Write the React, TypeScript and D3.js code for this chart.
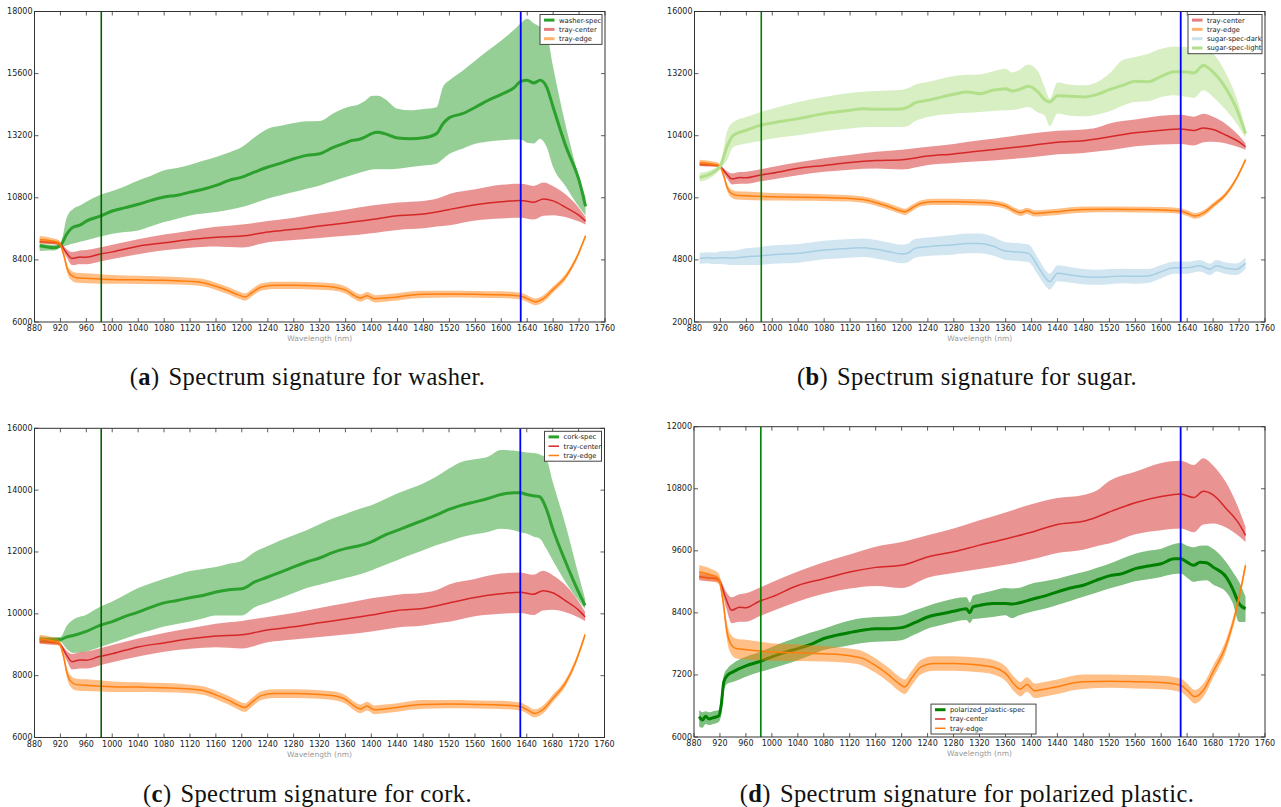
import React from 'react';
import * as d3 from 'd3';

// ---------------- data ----------------
const xTicks = [880, 920, 960, 1000, 1040, 1080, 1120, 1160, 1200, 1240, 1280, 1320, 1360, 1400, 1440, 1480, 1520, 1560, 1600, 1640, 1680, 1720, 1760];
const yTicksA = [6000, 8400, 10800, 13200, 15600, 18000];
const yTicksB = [2000, 4800, 7600, 10400, 13200, 16000];
const yTicksC = [6000, 8000, 10000, 12000, 14000, 16000];
const yTicksD = [6000, 7200, 8400, 9600, 10800, 12000];
const markerLines = [983, 1630];

const trayCenterWl = [888, 900, 915, 920, 930, 938, 950, 960, 980, 1000, 1040, 1080, 1120, 1160, 1200, 1240, 1280, 1320, 1360, 1400, 1440, 1480, 1500, 1520, 1560, 1600, 1630, 1650, 1665, 1680, 1700, 1720, 1730];
const trayCenterMean = [9100, 9080, 9060, 9000, 8650, 8450, 8510, 8500, 8620, 8710, 8930, 9060, 9190, 9280, 9320, 9480, 9580, 9710, 9830, 9960, 10110, 10170, 10250, 10350, 10530, 10650, 10700, 10630, 10750, 10680, 10420, 10120, 9900];
const trayCenterHi = [9170, 9150, 9120, 9060, 8800, 8700, 8760, 8780, 8880, 8990, 9200, 9380, 9530, 9680, 9770, 9900, 10030, 10190, 10340, 10500, 10620, 10680, 10760, 10950, 11130, 11300, 11340, 11260, 11390, 11250, 10920, 10400, 10060];
const trayCenterLo = [9030, 9010, 9000, 8940, 8480, 8200, 8230, 8230, 8330, 8430, 8620, 8770, 8870, 8920, 8880, 9080, 9170, 9250, 9330, 9430, 9560, 9620, 9690, 9740, 9920, 10000, 10030, 9960, 10110, 10130, 10050, 9880, 9770];

const trayEdgeWl = [888, 905, 918, 925, 930, 935, 945, 960, 1000, 1040, 1080, 1120, 1140, 1160, 1180, 1195, 1205, 1215, 1230, 1250, 1280, 1320, 1340, 1360, 1375, 1383, 1393, 1405, 1420, 1440, 1460, 1480, 1520, 1560, 1600, 1630, 1640, 1652, 1665, 1680, 1700, 1715, 1730];
const trayEdgeMean = [9190, 9140, 9060, 8610, 8100, 7840, 7710, 7690, 7645, 7630, 7610, 7570, 7520, 7380, 7200, 7040, 6970, 7130, 7355, 7420, 7420, 7390, 7355, 7230, 7000, 6925, 7015, 6895, 6925, 6970, 7035, 7070, 7080, 7070, 7055, 7000, 6905, 6780, 6905, 7260, 7775, 8420, 9320];
const trayEdgeSpread = [130, 120, 100, 130, 160, 180, 190, 190, 170, 160, 150, 140, 140, 140, 140, 140, 140, 140, 140, 140, 140, 140, 140, 140, 140, 140, 140, 140, 140, 140, 140, 140, 130, 130, 130, 130, 130, 130, 130, 120, 110, 100, 90];

const washerWl = [888, 900, 910, 920, 930, 940, 950, 960, 980, 1000, 1020, 1040, 1060, 1080, 1100, 1120, 1140, 1160, 1180, 1200, 1220, 1240, 1260, 1280, 1300, 1320, 1340, 1360, 1370, 1380, 1390, 1400, 1410, 1420, 1440, 1460, 1480, 1500, 1510, 1520, 1540, 1560, 1580, 1600, 1620, 1630, 1640, 1650, 1660, 1670, 1680, 1700, 1720, 1730];
const washerMean = [8950, 8900, 8870, 8960, 9410, 9670, 9740, 9900, 10080, 10290, 10420, 10550, 10700, 10830, 10900, 11020, 11130, 11280, 11475, 11600, 11800, 11990, 12140, 12310, 12440, 12500, 12740, 12920, 13020, 13050, 13150, 13280, 13330, 13280, 13110, 13085, 13120, 13280, 13660, 13900, 14050, 14300, 14570, 14800, 15060, 15300, 15340, 15240, 15340, 15080, 14300, 12760, 11470, 10470];
const washerHi = [9030, 9000, 8980, 9050, 10060, 10380, 10500, 10650, 10900, 11060, 11250, 11470, 11650, 11860, 11950, 12080, 12230, 12380, 12550, 12760, 13150, 13470, 13580, 13690, 13760, 13770, 14050, 14280, 14350, 14410, 14550, 14730, 14740, 14630, 14240, 14180, 14230, 14300, 15080, 15340, 15700, 16110, 16500, 16880, 17300, 17550, 17720, 17550, 17400, 17140, 15850, 13530, 11600, 10830];
const washerLo = [8740, 8760, 8760, 8870, 8960, 9030, 9100, 9160, 9290, 9410, 9480, 9540, 9700, 9860, 9990, 10120, 10190, 10250, 10340, 10440, 10600, 10770, 10900, 11020, 11150, 11280, 11440, 11600, 11680, 11760, 11830, 11890, 11900, 11900, 11920, 11990, 12050, 12120, 12300, 12500, 12700, 12890, 12980, 13020, 13050, 13050, 12930, 12900, 13080, 12760, 11990, 11220, 10440, 10120];

const sugarLightWl = [888, 900, 910, 920, 930, 940, 960, 980, 1000, 1040, 1080, 1120, 1140, 1160, 1200, 1210, 1220, 1240, 1280, 1300, 1320, 1340, 1360, 1370, 1380, 1395, 1410, 1420, 1428, 1440, 1460, 1480, 1500, 1520, 1540, 1560, 1580, 1600, 1620, 1640, 1650, 1665, 1680, 1700, 1715, 1730];
const sugarLightMean = [8515, 8620, 8770, 9040, 9895, 10420, 10645, 10855, 10975, 11170, 11395, 11545, 11620, 11590, 11605, 11695, 11875, 11995, 12265, 12370, 12295, 12445, 12520, 12415, 12475, 12625, 12370, 12025, 11920, 12205, 12175, 12145, 12250, 12475, 12670, 12850, 12835, 13075, 13285, 13270, 13225, 13570, 13270, 12520, 11695, 10495];
const sugarLightHi = [8725, 8800, 8920, 9150, 10570, 11020, 11245, 11450, 11620, 11920, 12145, 12325, 12380, 12415, 12475, 12550, 12700, 12820, 13090, 13150, 13165, 13300, 13420, 13250, 13350, 13615, 13300, 12595, 12070, 12800, 12700, 12670, 12800, 13200, 13800, 13945, 14100, 14320, 14425, 14395, 14380, 14320, 14095, 13195, 12200, 10720];
const sugarLightLo = [8320, 8420, 8600, 8930, 9295, 9895, 10045, 10150, 10270, 10420, 10600, 10720, 10780, 10795, 10795, 10850, 11050, 11245, 11395, 11430, 11470, 11510, 11545, 11560, 11600, 11695, 11450, 11320, 10825, 11400, 11300, 11275, 11350, 11500, 11750, 11920, 11950, 12145, 12220, 12145, 12100, 12445, 12145, 11545, 11000, 10315];

const sugarDarkWl = [888, 900, 910, 920, 940, 960, 980, 1000, 1040, 1080, 1120, 1140, 1160, 1180, 1200, 1210, 1220, 1240, 1280, 1300, 1320, 1340, 1360, 1380, 1395, 1410, 1420, 1428, 1440, 1460, 1480, 1500, 1520, 1540, 1560, 1580, 1600, 1620, 1640, 1660, 1675, 1685, 1700, 1715, 1730];
const sugarDarkMean = [4870, 4900, 4870, 4900, 4890, 4945, 4975, 5035, 5095, 5245, 5320, 5350, 5275, 5170, 5065, 5125, 5320, 5395, 5485, 5545, 5545, 5425, 5200, 5155, 5095, 4495, 4045, 3820, 4195, 4120, 4045, 4015, 4045, 4075, 4060, 4075, 4270, 4450, 4450, 4540, 4375, 4540, 4420, 4375, 4645];
const sugarDarkSpread = [250, 250, 260, 280, 320, 380, 400, 410, 420, 420, 420, 420, 420, 420, 420, 420, 420, 420, 440, 450, 450, 430, 400, 400, 400, 380, 360, 360, 360, 350, 340, 340, 340, 330, 330, 320, 300, 280, 270, 260, 260, 260, 260, 260, 250];

const corkWl = [888, 900, 920, 930, 940, 960, 980, 1000, 1020, 1040, 1060, 1080, 1100, 1120, 1140, 1160, 1180, 1200, 1220, 1240, 1260, 1280, 1300, 1320, 1340, 1360, 1380, 1400, 1420, 1440, 1460, 1480, 1500, 1520, 1540, 1560, 1580, 1600, 1620, 1630, 1640, 1650, 1660, 1670, 1680, 1700, 1720, 1730];
const corkMean = [9190, 9170, 9170, 9255, 9300, 9430, 9620, 9750, 9915, 10055, 10215, 10355, 10430, 10520, 10595, 10705, 10780, 10810, 11030, 11190, 11350, 11515, 11675, 11805, 11980, 12110, 12195, 12325, 12540, 12700, 12865, 13025, 13190, 13375, 13515, 13620, 13730, 13860, 13915, 13915, 13860, 13820, 13785, 13405, 12755, 11675, 10700, 10270];
const corkHi = [9265, 9250, 9250, 9620, 9815, 9970, 10215, 10400, 10620, 10835, 10990, 11135, 11260, 11385, 11450, 11515, 11620, 11710, 12000, 12190, 12380, 12540, 12705, 12900, 13080, 13230, 13385, 13515, 13700, 13890, 14050, 14215, 14430, 14700, 14920, 15000, 15080, 15300, 15280, 15250, 15220, 15200, 15155, 15025, 14270, 12865, 11255, 10485];
const corkLo = [9105, 9090, 9090, 8865, 8735, 8780, 8920, 9060, 9200, 9350, 9470, 9590, 9670, 9750, 9850, 9945, 9945, 9945, 10215, 10360, 10510, 10670, 10835, 10940, 11050, 11160, 11265, 11405, 11570, 11730, 11900, 12055, 12215, 12350, 12485, 12570, 12650, 12755, 12700, 12640, 12595, 12500, 12435, 12110, 11730, 11025, 10430, 10160];

const plasticWl = [888, 893, 898, 903, 910, 918, 922, 926, 932, 940, 960, 980, 1000, 1020, 1040, 1060, 1080, 1100, 1120, 1140, 1160, 1180, 1200, 1220, 1240, 1260, 1280, 1300, 1305, 1310, 1320, 1340, 1360, 1370, 1380, 1400, 1420, 1440, 1460, 1480, 1500, 1520, 1540, 1560, 1580, 1600, 1620, 1630, 1640, 1650, 1660, 1670, 1680, 1700, 1710, 1720, 1730];
const plasticMean = [6393, 6330, 6400, 6350, 6375, 6405, 6620, 7070, 7200, 7260, 7375, 7455, 7550, 7635, 7710, 7790, 7905, 7970, 8020, 8065, 8095, 8095, 8115, 8210, 8320, 8380, 8430, 8480, 8405, 8515, 8545, 8580, 8580, 8570, 8590, 8660, 8725, 8805, 8880, 8935, 9030, 9115, 9160, 9255, 9305, 9350, 9445, 9445, 9380, 9320, 9380, 9370, 9285, 9095, 8870, 8580, 8480];
const plasticHi = [6520, 6480, 6500, 6480, 6500, 6520, 6815, 7200, 7330, 7420, 7550, 7640, 7740, 7840, 7935, 8020, 8095, 8180, 8255, 8300, 8320, 8330, 8355, 8450, 8535, 8610, 8675, 8700, 8600, 8730, 8770, 8830, 8880, 8870, 8880, 8965, 9010, 9060, 9130, 9190, 9270, 9350, 9450, 9545, 9600, 9640, 9730, 9750, 9700, 9670, 9700, 9705, 9640, 9385, 9200, 9000, 8710];
const plasticLo = [6200, 6180, 6250, 6230, 6250, 6290, 6425, 6900, 7035, 7065, 7165, 7250, 7325, 7400, 7485, 7580, 7680, 7730, 7775, 7820, 7840, 7850, 7870, 7980, 8095, 8160, 8225, 8260, 8200, 8280, 8290, 8320, 8355, 8300, 8350, 8420, 8480, 8550, 8630, 8710, 8790, 8870, 8940, 9010, 9050, 9095, 9150, 9160, 9080, 9000, 9020, 9030, 8950, 8805, 8600, 8225, 8225];

// ---------------- series ----------------
type Series = { label: string; color: string; width: number; legendWidth: number; legendOpacity: number; wl: number[]; mean: number[]; hi: number[]; lo: number[] };

const mk = (label: string, color: string, width: number, wl: number[], mean: number[], hi: number[], lo: number[], legendWidth = width, legendOpacity = 1): Series =>
  ({ label, color, width, legendWidth, legendOpacity, wl, mean, hi, lo });

const edgeHi = trayEdgeMean.map((m, i) => m + trayEdgeSpread[i]);
const edgeLo = trayEdgeMean.map((m, i) => m - trayEdgeSpread[i]);
const darkHi = sugarDarkMean.map((m, i) => m + sugarDarkSpread[i]);
const darkLo = sugarDarkMean.map((m, i) => m - sugarDarkSpread[i]);

const RED = '#d62728', ORANGE = '#ff7f0e', GREEN = '#2ca02c';

type PanelCfg = {
  left: number; right: number; top: number; bottom: number;
  yDomain: [number, number]; yTicks: number[]; series: Series[];
  legend: { pos: 'ur' | 'lc'; width: number };
  vGreen: string; letter: string; caption: string; capX: number; capY: number;
};

const panels: PanelCfg[] = [
  {
    left: 34.5, right: 605, top: 11.5, bottom: 322, yDomain: [6000, 18000], yTicks: yTicksA,
    series: [
      mk('washer-spec', GREEN, 3, washerWl, washerMean, washerHi, washerLo),
      mk('tray-center', RED, 1.5, trayCenterWl, trayCenterMean, trayCenterHi, trayCenterLo, 3, 0.6),
      mk('tray-edge', ORANGE, 1.5, trayEdgeWl, trayEdgeMean, edgeHi, edgeLo, 3, 0.6),
    ],
    legend: { pos: 'ur', width: 62 }, vGreen: '#006400', letter: 'a', caption: 'Spectrum signature for washer.', capX: 307.5, capY: 385,
  },
  {
    left: 694.5, right: 1265, top: 11.5, bottom: 322, yDomain: [2000, 16000], yTicks: yTicksB,
    series: [
      mk('tray-center', RED, 1.5, trayCenterWl, trayCenterMean, trayCenterHi, trayCenterLo, 3, 0.6),
      mk('tray-edge', ORANGE, 1.5, trayEdgeWl, trayEdgeMean, edgeHi, edgeLo, 3, 0.6),
      mk('sugar-spec-dark', '#a6cee3', 1.5, sugarDarkWl, sugarDarkMean, darkHi, darkLo, 3, 0.6),
      mk('sugar-spec-light', '#b2df8a', 3, sugarLightWl, sugarLightMean, sugarLightHi, sugarLightLo, 3, 1),
    ],
    legend: { pos: 'ur', width: 74 }, vGreen: '#008000', letter: 'b', caption: 'Spectrum signature for sugar.', capX: 967, capY: 385,
  },
  {
    left: 34.5, right: 604.5, top: 428.3, bottom: 737.5, yDomain: [6000, 16000], yTicks: yTicksC,
    series: [
      mk('cork-spec', GREEN, 3, corkWl, corkMean, corkHi, corkLo),
      mk('tray-center', RED, 1.5, trayCenterWl, trayCenterMean, trayCenterHi, trayCenterLo),
      mk('tray-edge', ORANGE, 1.5, trayEdgeWl, trayEdgeMean, edgeHi, edgeLo),
    ],
    legend: { pos: 'ur', width: 57 }, vGreen: '#006400', letter: 'c', caption: 'Spectrum signature for cork.', capX: 307.5, capY: 802,
  },
  {
    left: 694, right: 1265, top: 426.7, bottom: 737, yDomain: [6000, 12000], yTicks: yTicksD,
    series: [
      mk('polarized_plastic-spec', '#008000', 3, plasticWl, plasticMean, plasticHi, plasticLo),
      mk('tray-center', RED, 1.5, trayCenterWl, trayCenterMean, trayCenterHi, trayCenterLo),
      mk('tray-edge', ORANGE, 1.5, trayEdgeWl, trayEdgeMean, edgeHi, edgeLo),
    ],
    legend: { pos: 'lc', width: 105 }, vGreen: '#008000', letter: 'd', caption: 'Spectrum signature for polarized plastic.', capX: 967, capY: 802,
  },
];

const TICK_FONT = 'DejaVu Sans, sans-serif';

function Panel({ cfg, idx }: { cfg: PanelCfg; idx: number }) {
  const x = d3.scaleLinear().domain([880, 1760]).range([cfg.left, cfg.right]);
  const y = d3.scaleLinear().domain(cfg.yDomain).range([cfg.bottom, cfg.top]);
  const clipId = `clip${idx}`;
  const rowH = 9.3;
  const n = cfg.series.length;
  const lh = n * rowH + 2;
  const lw = cfg.legend.width;
  const lx = cfg.legend.pos === 'ur' ? cfg.right - 3 - lw : (cfg.left + cfg.right) / 2 - lw / 2 + 4;
  const ly = cfg.legend.pos === 'ur' ? cfg.top + 3 : cfg.bottom - 3 - lh;

  return (
    <g>
      <defs>
        <clipPath id={clipId}>
          <rect x={cfg.left} y={cfg.top} width={cfg.right - cfg.left} height={cfg.bottom - cfg.top} />
        </clipPath>
      </defs>
      <rect x={cfg.left} y={cfg.top} width={cfg.right - cfg.left} height={cfg.bottom - cfg.top} fill="#fff" />
      <g clipPath={`url(#${clipId})`}>
        {cfg.series.map((s, k) => {
          const idxs = s.wl.map((_, i) => i);
          const areaGen = d3.area<number>().x(i => x(s.wl[i])).y0(i => y(s.lo[i])).y1(i => y(s.hi[i])).curve(d3.curveMonotoneX);
          const lineGen = d3.line<number>().x(i => x(s.wl[i])).y(i => y(s.mean[i])).curve(d3.curveMonotoneX);
          return (
            <g key={k}>
              <path d={areaGen(idxs) || ''} fill={s.color} fillOpacity={0.5} stroke="none" />
              <path d={lineGen(idxs) || ''} fill="none" stroke={s.color} strokeWidth={s.width} strokeLinejoin="round" />
            </g>
          );
        })}
        <line x1={x(markerLines[0])} x2={x(markerLines[0])} y1={cfg.top} y2={cfg.bottom} stroke={cfg.vGreen} strokeWidth={1.6} />
        <line x1={x(markerLines[1])} x2={x(markerLines[1])} y1={cfg.top} y2={cfg.bottom} stroke="#0000ff" strokeWidth={1.8} />
      </g>
      <rect x={cfg.left} y={cfg.top} width={cfg.right - cfg.left} height={cfg.bottom - cfg.top} fill="none" stroke="#333" strokeWidth={1} />
      {xTicks.map(t => (
        <g key={'x' + t}>
          <line x1={x(t)} x2={x(t)} y1={cfg.bottom} y2={cfg.bottom - 4} stroke="#333" strokeWidth={0.8} />
          <line x1={x(t)} x2={x(t)} y1={cfg.top} y2={cfg.top + 4} stroke="#333" strokeWidth={0.8} />
          <text x={x(t)} y={cfg.bottom + 9} textAnchor="middle" fontFamily={TICK_FONT} fontSize={8} fill="#222">{t}</text>
        </g>
      ))}
      {cfg.yTicks.map(t => (
        <g key={'y' + t}>
          <line x1={cfg.left} x2={cfg.left + 4} y1={y(t)} y2={y(t)} stroke="#333" strokeWidth={0.8} />
          <line x1={cfg.right} x2={cfg.right - 4} y1={y(t)} y2={y(t)} stroke="#333" strokeWidth={0.8} />
          <text x={cfg.left - 2} y={y(t) + 2.5} textAnchor="end" fontFamily={TICK_FONT} fontSize={8} fill="#222">{t}</text>
        </g>
      ))}
      <text x={(cfg.left + cfg.right) / 2} y={cfg.bottom + 19} textAnchor="middle" fontFamily={TICK_FONT} fontSize={7.5} fill="#9a9a9a">Wavelength (nm)</text>
      <rect x={lx} y={ly} width={lw} height={lh} fill="#fff" stroke="#444" strokeWidth={1} />
      {cfg.series.map((s, k) => {
        const cy = ly + 5.6 + k * rowH;
        return (
          <g key={'l' + k}>
            <line x1={lx + 4} x2={lx + 14.5} y1={cy} y2={cy} stroke={s.color} strokeWidth={s.legendWidth} strokeOpacity={s.legendOpacity} />
            <text x={lx + 19} y={cy + 2.4} fontFamily={TICK_FONT} fontSize={6.8} fill="#222">{s.label}</text>
          </g>
        );
      })}
      <text x={cfg.capX} y={cfg.capY} textAnchor="middle" fontFamily="Liberation Serif, serif" fontSize={24.5} letterSpacing={0.4} fill="#111">
        (<tspan fontWeight="bold">{cfg.letter}</tspan>)<tspan dx={9}>{cfg.caption}</tspan>
      </text>
    </g>
  );
}

export default function App() {
  return (
    <svg width={1281} height={807} style={{ position: 'absolute', left: 0, top: 0, background: '#fff' }}>
      <rect x={0} y={0} width={1281} height={807} fill="#fff" />
      {panels.map((p, i) => <Panel key={i} cfg={p} idx={i} />)}
    </svg>
  );
}
